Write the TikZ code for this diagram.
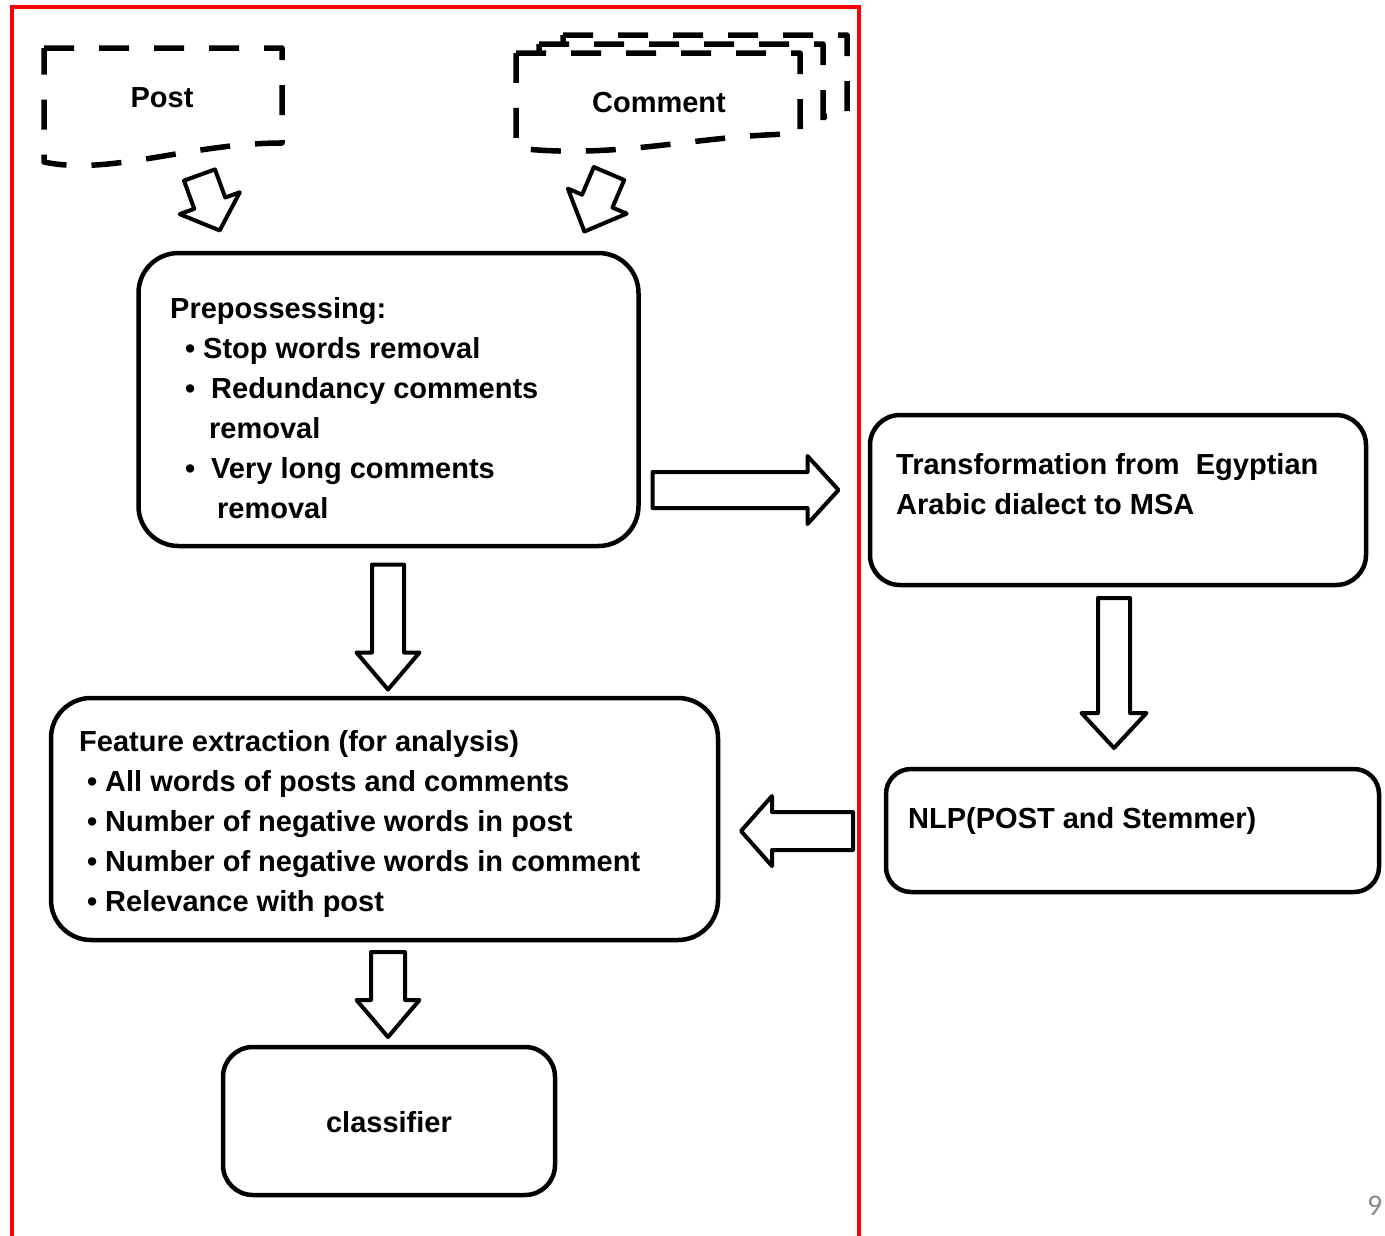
\documentclass[tikz,border=0pt]{standalone}
\usepackage{fontspec}
\setmainfont{Liberation Sans}
\newfontfamily\pagenumfont{Carlito}
\usetikzlibrary{calc}
\definecolor{pagegray}{RGB}{137,137,137}
\definecolor{framered}{RGB}{255,0,0}

\begin{document}
\begin{tikzpicture}[x=1pt,y=-1pt,
  box/.style={draw, line width=4.5pt, rounded corners=#1, inner sep=0pt, outer sep=0pt},
  box/.default=40pt,
  txt/.style={anchor=base west, inner sep=0pt, font=\bfseries\fontsize{29}{34}\selectfont},
  ctxt/.style={anchor=base, inner sep=0pt, font=\bfseries\fontsize{29}{34}\selectfont},
  docline/.style={draw, fill=white, line width=5.5pt, dash pattern=on 30pt off 25pt, line join=round},
  arrowline/.style={draw, fill=white, line width=4pt, line join=round},
  pics/blockarrow/.style n args={4}{code={
    % tail centred at the origin, pointing along +y (downwards)
    \path[arrowline] (-#1,0) -- (#1,0) -- (#1,#2) -- (#3,#2) -- (0,#2+#4)
      -- (-#3,#2) -- (-#1,#2) -- cycle;
  }}
]
\useasboundingbox (0,0) rectangle (1385,1235);
\fill[white] (0,0) rectangle (1385,1235);

% red frame, open at the bottom
\draw[framered, line width=4pt] (12,1245) -- (12,7) -- (859,7) -- (859,1245);

% ---- input documents ----
\path[docline] (44,48) -- (282,48) -- (282,143)
  .. controls (190,143) and (110,176) .. (44,162) -- cycle;
\node[ctxt] (post) at (162,107) {Post};

\foreach \dx/\dy in {47/-18, 23/-9, 0/0}{
  \begin{scope}[shift={(\dx,\dy)}]
    \path[docline] (516,53) -- (800,53) -- (800,134)
      .. controls (700,134) and (620,160) .. (516,148) -- cycle;
  \end{scope}
}
\node[ctxt] (comment) at (659,112) {Comment};

% ---- process boxes ----
\node[box, minimum width=500pt, minimum height=293pt] (prep) at (388.5,399.5) {};
\node[box, minimum width=667pt, minimum height=242pt] (feat) at (384.5,819) {};
\node[box=30pt, minimum width=496pt, minimum height=170pt] (trans) at (1118,500) {};
\node[box=25pt, minimum width=493pt, minimum height=123pt] (nlp) at (1132.5,830.5) {};
\node[box=30pt, minimum width=332pt, minimum height=148pt] (clf) at (389,1121) {};

% preprocessing text
\node[txt] (prephead) at (170,318) {Prepossessing:};
\node[txt] (pb1) at (185,358) {\textbullet};
\node[txt] (p1) at (203,358) {Stop words removal};
\node[txt] (pb2) at (185,398) {\textbullet};
\node[txt] (p2) at (211,398) {Redundancy comments};
\node[txt] (p2b) at (209,438) {removal};
\node[txt] (pb3) at (185,478) {\textbullet};
\node[txt] (p3) at (211,478) {Very long comments};
\node[txt] (p3b) at (217,518) {removal};

% feature extraction text
\node[txt] (feathead) at (79,751) {Feature extraction (for analysis)};
\node[txt] (fb1) at (87,791) {\textbullet};
\node[txt] (f1) at (105,791) {All words of posts and comments};
\node[txt] (fb2) at (87,831) {\textbullet};
\node[txt] (f2) at (105,831) {Number of negative words in post};
\node[txt] (fb3) at (87,871) {\textbullet};
\node[txt] (f3) at (105,871) {Number of negative words in comment};
\node[txt] (fb4) at (87,911) {\textbullet};
\node[txt] (f4) at (105,911) {Relevance with post};

% right-hand column text
\node[txt] (trans1) at (896,474) {Transformation from\ \ Egyptian};
\node[txt] (trans2) at (896,514) {Arabic dialect to MSA};
\node[txt] (nlptext) at (908,828) {NLP(POST and Stemmer)};
\node[ctxt] (clftext) at (389,1132) {classifier};

% ---- block arrows ----
\pic[rotate=20] at ($(post.base)+(37.5,68)$) {blockarrow={16.5}{30}{32}{29}};
\pic[rotate=-23] at ($(comment.base)+(-50,61.5)$) {blockarrow={16.5}{30}{32}{33}};
\pic at ($(prep.south)+(-0.5,18.5)$) {blockarrow={16}{88}{31.5}{37}};
\pic[rotate=90] at ($(prep.east)+(14,90.5)$) {blockarrow={18}{155}{34}{31}};
\pic at ($(trans.south)+(-4,13)$) {blockarrow={16}{115}{32.5}{35}};
\pic[rotate=-90] at ($(nlp.west)+(-33,0.5)$) {blockarrow={19}{81}{35}{31}};
\pic at ($(feat.south)+(3.5,12)$) {blockarrow={17}{48}{31.5}{37}};

% page number
\node[anchor=base west, inner sep=0pt, text=pagegray,
  font=\pagenumfont\fontsize{30}{30}\selectfont] (pagenum) at (1367,1215) {9};
\end{tikzpicture}
\end{document}
